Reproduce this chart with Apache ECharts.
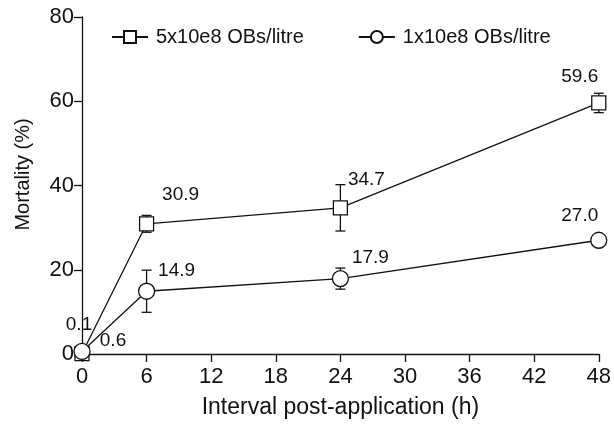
<!DOCTYPE html>
<html>
<head>
<meta charset="utf-8">
<script src="https://cdn.jsdelivr.net/npm/echarts@6/dist/echarts.min.js"></script>
<style>
  html, body { margin: 0; padding: 0; background: #fff; }
  #chart { width: 614px; height: 424px; }
</style>
</head>
<body>
<div id="chart"></div>
<script>
// 时间点 (h)
const hours = [0, 6, 24, 48];
const xTicks = [0, 6, 12, 18, 24, 30, 36, 42, 48];
const yTicks = [0, 20, 40, 60, 80];

// 5x10e8 OBs/litre
const highName = "5x10e8 OBs/litre";
const highMean = [0.1, 30.9, 34.7, 59.6];
const highErr = [0, 2.0, 5.5, 2.3];

// 1x10e8 OBs/litre
const lowName = "1x10e8 OBs/litre";
const lowMean = [0.6, 14.9, 17.9, 27.0];
const lowErr = [0, 5.0, 2.5, 0];

const font = "Liberation Sans, Arial, sans-serif";

// 数值标签的偏移 (px)
const highLabelOffset = [[-3, -29], [34, -29], [26, -28], [-19, -26]];
const lowLabelOffset = [[31, -11], [30, -20], [30, -21], [-19, -24]];

function points(means, offsets) {
  return hours.map((h, i) => ({
    value: [h, means[i]],
    label: {
      show: true,
      position: "inside",
      offset: offsets[i],
      formatter: means[i].toFixed(1),
      color: "#111",
      fontSize: 19,
      fontFamily: font,
    },
  }));
}

function errorData(means, errs) {
  return hours
    .map((h, i) => [h, means[i] - errs[i], means[i] + errs[i]])
    .filter((d, i) => errs[i] > 0);
}

function errorSeries(means, errs) {
  return {
    type: "custom",
    silent: true,
    z: 1,
    data: errorData(means, errs),
    renderItem: function (params, api) {
      const lo = api.coord([api.value(0), api.value(1)]);
      const hi = api.coord([api.value(0), api.value(2)]);
      const w = 5;
      const style = { stroke: "#111", lineWidth: 1.3 };
      return {
        type: "group",
        children: [
          { type: "line", shape: { x1: lo[0], y1: lo[1], x2: hi[0], y2: hi[1] }, style },
          { type: "line", shape: { x1: lo[0] - w, y1: lo[1], x2: lo[0] + w, y2: lo[1] }, style },
          { type: "line", shape: { x1: hi[0] - w, y1: hi[1], x2: hi[0] + w, y2: hi[1] }, style },
        ],
      };
    },
  };
}

const myChart = echarts.init(document.getElementById("chart"));
const option = {
  animation: false,
  backgroundColor: "#fff",
  textStyle: { fontFamily: font },
  legend: {
    top: 22,
    left: 106,
    itemGap: 54,
    itemWidth: 36,
    itemHeight: 15,
    textStyle: { fontSize: 20, color: "#111", fontFamily: font, padding: [0, 0, 0, 3] },
    data: [highName, lowName],
  },
  grid: { left: 82, right: 14, top: 17, bottom: 67 },
  xAxis: {
    type: "value",
    min: 0,
    max: 48,
    interval: 6,
    name: "Interval post-application (h)",
    nameLocation: "middle",
    nameGap: 42,
    nameTextStyle: { fontSize: 23, color: "#111", fontFamily: font },
    axisLine: { lineStyle: { color: "#111", width: 1.3 } },
    axisTick: { show: true, length: 8, lineStyle: { color: "#111", width: 1.3 } },
    axisLabel: {
      fontSize: 22,
      color: "#111",
      margin: 12,
      formatter: (v) => (xTicks.includes(v) ? String(v) : ""),
    },
    splitLine: { show: false },
  },
  yAxis: {
    type: "value",
    min: 0,
    max: 80,
    interval: 20,
    name: "Mortality (%)",
    nameLocation: "middle",
    nameGap: 49,
    nameTextStyle: { fontSize: 20, color: "#111", fontFamily: font, padding: [0, 0, 0, 22] },
    axisLine: { show: true, lineStyle: { color: "#111", width: 1.3 } },
    axisTick: { show: true, length: 8, lineStyle: { color: "#111", width: 1.3 } },
    axisLabel: {
      fontSize: 22,
      color: "#111",
      margin: 8,
      formatter: (v) => (yTicks.includes(v) ? String(v) : ""),
    },
    splitLine: { show: false },
  },
  series: [
    errorSeries(highMean, highErr),
    errorSeries(lowMean, lowErr),
    {
      name: highName,
      type: "line",
      z: 3,
      data: points(highMean, highLabelOffset),
      symbol: "rect",
      symbolSize: 14,
      showAllSymbol: true,
      lineStyle: { color: "#111", width: 1.3 },
      itemStyle: { color: "#fff", borderColor: "#111", borderWidth: 1.3 },
    },
    {
      name: lowName,
      type: "line",
      z: 4,
      data: points(lowMean, lowLabelOffset),
      symbol: "circle",
      symbolSize: 16,
      showAllSymbol: true,
      lineStyle: { color: "#111", width: 1.3 },
      itemStyle: { color: "#fff", borderColor: "#111", borderWidth: 1.3 },
    },
  ],
};
myChart.setOption(option);
</script>
</body>
</html>
